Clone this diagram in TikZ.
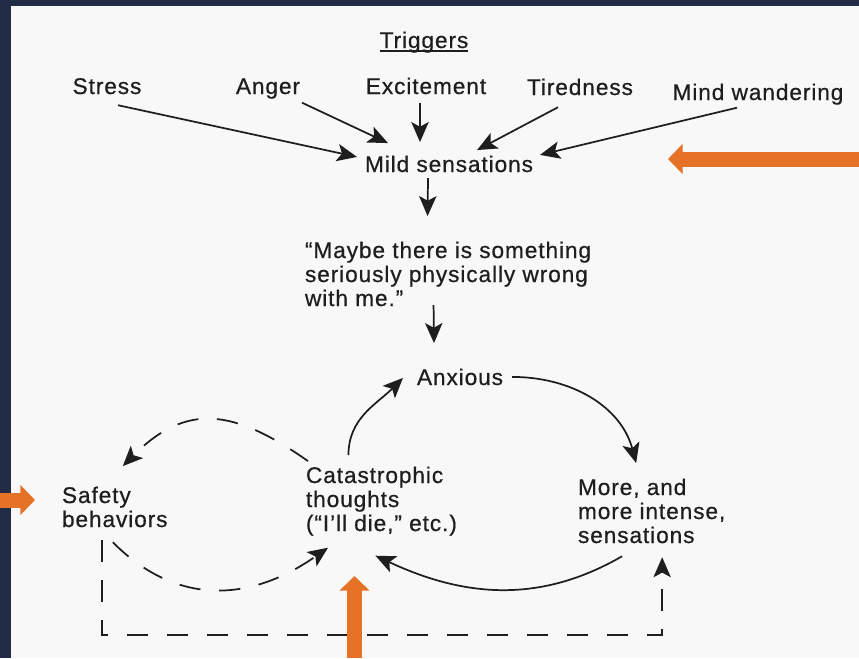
\documentclass[tikz,border=0pt]{standalone}
\usepackage{fontspec}
\setmainfont{Liberation Sans}[LetterSpace=4,FakeBold=0.6]
\usetikzlibrary{arrows.meta,calc}
\definecolor{navy}{RGB}{34,44,71}
\definecolor{paper}{RGB}{248,248,248}
\definecolor{cue}{RGB}{230,114,40}
\definecolor{ink}{RGB}{30,30,30}

\begin{document}
\begin{tikzpicture}[x=0.75pt,y=0.75pt,
  lbl/.style={inner sep=0pt,outer sep=0pt,text=ink,font=\fontsize{17}{18}\selectfont,align=left},
  flow/.style={->,draw=ink,line width=1.3pt},
  back/.style={flow,dash pattern=on 16pt off 14pt},
  cuearrow/.style={-{Triangle[length=11pt,width=22pt]},draw=cue,line width=11.25pt},
  >={Stealth[length=15pt,width=13pt,inset=3.5pt]}]

% frame
\useasboundingbox (0,0) rectangle (859,-658);
\fill[navy] (0,0) rectangle (859,-658);
\fill[paper] (11,-6) rectangle (859,-658);

% triggers
\node[lbl,anchor=base] (trig) at (424,-48) {Triggers};
\draw[ink,line width=0.9pt] ($(trig.base west)+(0,-3)$) -- ($(trig.base east)+(0,-3)$);

\node[lbl,anchor=base] (stress) at (107,-94) {Stress};
\node[lbl,anchor=base] (anger) at (268,-94) {Anger};
\node[lbl,anchor=base] (excite) at (426,-94) {Excitement};
\node[lbl,anchor=base] (tired) at (580,-95) {Tiredness};
\node[lbl,anchor=base] (mind) at (758,-100) {Mind wandering};

\node[lbl,anchor=base] (mild) at (449,-172) {Mild sensations};
% base of a multi-line node = last line
\node[lbl,anchor=base west] (quote) at (305,-306)
  {“Maybe there is something\\seriously physically wrong\\with me.”};
\node[lbl,anchor=base] (anx) at (460,-385) {Anxious};
\node[lbl,anchor=base west] (cat) at (306,-531)
  {Catastrophic\\thoughts\\(“I’ll die,” etc.)};
\node[lbl,anchor=base west] (safe) at (62,-527) {Safety\\behaviors};
\node[lbl,anchor=base west] (more) at (578,-543)
  {More, and\\more intense,\\sensations};

% into mild sensations
\draw[flow] ($(stress.south)+(11,-11)$) -- ($(mild.west)+(-8,7)$);
\draw[flow] ($(anger.south east)+(2,-4)$) -- ($(mild.north west)+(23,12.5)$);
\draw[flow] ($(excite.south)+(-6,-9)$) -- ($(mild.north)+(-29,13.5)$);
\draw[flow] ($(tired.south)+(-22,-12)$) -- ($(mild.north)+(28,5.5)$);
\draw[flow] ($(mind.south)+(-21,-3)$) -- ($(mild.east)+(7,9)$);

% down the middle
\draw[flow] ($(mild.south)+(-21,-6)$) -- ($(quote.north)+(-20.5,25.5)$);
\draw[flow] ($(quote.south)+(-14.5,1)$) -- ($(anx.north)+(-26,25.5)$);

% the loop
\draw[flow] ($(anx.east)+(9,0)$) to[out=0,in=105] ($(more.north)+(-15.5,15.5)$);
\draw[flow] ($(more.south)+(-29.5,-13)$) to[out=-150,in=-25] ($(cat.south)+(-6,-20)$);
\draw[flow] ($(cat.north)+(-33,11.5)$) to[out=90,in=-135] ($(anx.west)+(-14,-1)$);

% safety behaviors
\draw[back] ($(cat.north west)+(2,5.5)$) to[out=145,in=45,looseness=1.25] ($(safe.north)+(8,20.5)$);
\draw[back] ($(safe.south)+(-2,-15)$) to[out=-45,in=-145,looseness=1.1] ($(cat.south west)+(22,-12)$);
\draw[back] ($(safe.south)+(-13,-13)$) |- ($(more.south)+(10.5,-92)$) -- ($(more.south)+(10.5,-14)$);

% orange pointers
\coordinate (cueR) at (859,-159);
\coordinate (cueRtip) at (668,-159);
\coordinate (cueL) at (0,-500);
\coordinate (cueLtip) at (35,-500);
\coordinate (cueB) at (354.5,-658);
\coordinate (cueBtip) at (354.5,-576);
\draw[cuearrow] (cueR) -- (cueRtip);
\draw[cuearrow] (cueL) -- (cueLtip);
\draw[cuearrow] (cueB) -- (cueBtip);

\end{tikzpicture}
\end{document}
